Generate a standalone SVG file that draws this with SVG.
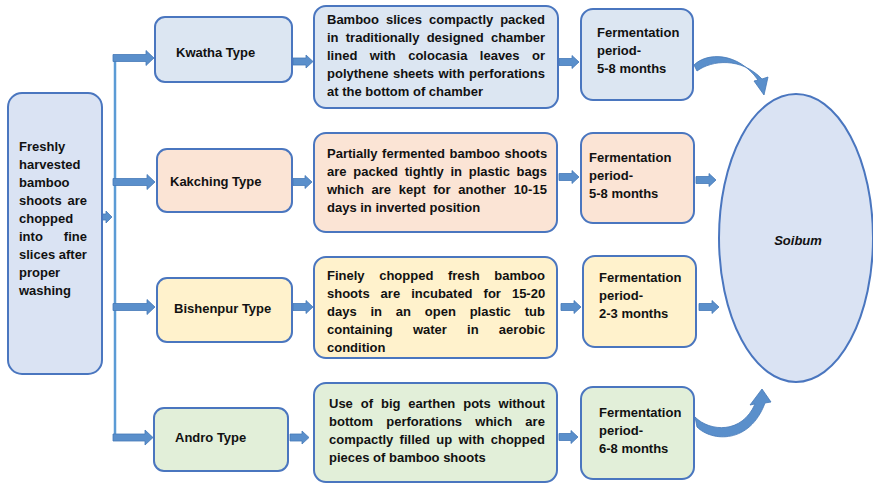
<svg xmlns="http://www.w3.org/2000/svg" width="873" height="484" viewBox="0 0 873 484">
<style>
.bx{stroke:#4a76bf;stroke-width:2}
.blue{fill:#dce6f2}.peach{fill:#fbe4d5}.yel{fill:#fff2cc}.grn{fill:#e2efd9}.lav{fill:#dae3f3}
.t{font-family:"Liberation Sans",Arial,sans-serif;font-weight:bold;font-size:13px;fill:#111}
.ar{fill:#5a8fcb;stroke:#4578b8;stroke-width:0.8}
.ln{stroke:#5b9bd5;stroke-width:2.5;fill:none}
</style>
<rect width="873" height="484" fill="#fff"/>
<g id="connectors">
<line class="ln" x1="115" y1="55" x2="115" y2="441"/>
<path class="ar" d="M102,214 H106 V211 L112,217 L106,223 V220 H102 Z"/>
<path class="ar" d="M113,54.5 H146 V50.5 L154,58 L146,65.5 V61.5 H113 Z"/>
<path class="ar" d="M113,178.5 H147 V174.5 L155,182 L147,189.5 V185.5 H113 Z"/>
<path class="ar" d="M113,303.5 H147 V299.5 L155,307 L147,314.5 V310.5 H113 Z"/>
<path class="ar" d="M113,434 H145 V430 L153,437.5 L145,445 V441 H113 Z"/>
<path class="ar" d="M293,58 H306 V55 L313,61.5 L306,68 V65 H293 Z"/>
<path class="ar" d="M293,178.5 H305 V175.5 L312,182 L305,188.5 V185.5 H293 Z"/>
<path class="ar" d="M293,303.5 H306 V300.5 L313,307 L306,313.5 V310.5 H293 Z"/>
<path class="ar" d="M290,434 H302 V431 L309,437.5 L302,444 V441 H290 Z"/>
<path class="ar" d="M559,58.5 H572 V55.5 L579,62 L572,68.5 V65.5 H559 Z"/>
<path class="ar" d="M559,173.5 H572 V170.5 L579,177 L572,183.5 V180.5 H559 Z"/>
<path class="ar" d="M561,303.5 H574 V300.5 L581,307 L574,313.5 V310.5 H561 Z"/>
<path class="ar" d="M559,433.5 H571 V430.5 L578,437 L571,443.5 V440.5 H559 Z"/>
<path class="ar" d="M696,176.5 H709 V173.5 L716,180 L709,186.5 V183.5 H696 Z"/>
<path class="ar" d="M699,303.5 H712 V300.5 L719,307 L712,313.5 V310.5 H699 Z"/>
<path class="ar" d="M694,65 C707,52 738,52 758,80 L754,81 L764,95 L768,77 L762,79 C741,57 712,60 697,71 Z"/>
<path class="ar" d="M695,417 C710,432 742,434 755,404 L750,405 L762,389 L771,402 L765,403 C750,444 712,442 697,427 Z"/>
</g>
<g id="start">
<rect class="bx lav" x="8" y="93" width="94" height="281" rx="14"/>
<text class="t" x="19" y="151">Freshly</text>
<text class="t" x="19" y="169">harvested</text>
<text class="t" x="19" y="187">bamboo</text>
<text class="t" x="19" y="205" word-spacing="2.3">shoots are</text>
<text class="t" x="19" y="223">chopped</text>
<text class="t" x="19" y="241" word-spacing="17.4">into fine</text>
<text class="t" x="19" y="259">slices after</text>
<text class="t" x="19" y="277">proper</text>
<text class="t" x="19" y="295">washing</text>
</g>
<g id="kwatha">
<rect class="bx blue" x="155" y="17" width="137" height="65" rx="10"/>
<text class="t" x="176" y="57">Kwatha Type</text>
</g>
<g id="kwatha-desc">
<rect class="bx blue" x="314" y="6" width="244" height="102" rx="12"/>
<text class="t" x="327" y="24" word-spacing="3.3">Bamboo slices compactly packed</text>
<text class="t" x="327" y="42" word-spacing="3.6">in traditionally designed chamber</text>
<text class="t" x="327" y="60" word-spacing="8.8">lined with colocasia leaves or</text>
<text class="t" x="327" y="78" word-spacing="0.9">polythene sheets with perforations</text>
<text class="t" x="327" y="96">at the bottom of chamber</text>
</g>
<g id="kwatha-period">
<rect class="bx blue" x="581" y="9" width="112" height="91" rx="12"/>
<text class="t" x="597" y="37">Fermentation</text>
<text class="t" x="597" y="55">period-</text>
<text class="t" x="597" y="73">5-8 months</text>
</g>
<g id="kakching">
<rect class="bx peach" x="157" y="149" width="135" height="63" rx="10"/>
<text class="t" x="170" y="186">Kakching Type</text>
</g>
<g id="kakching-desc">
<rect class="bx peach" x="314" y="133" width="243" height="99" rx="12"/>
<text class="t" x="327" y="158" word-spacing="0.9">Partially fermented bamboo shoots</text>
<text class="t" x="327" y="176" word-spacing="3.1">are packed tightly in plastic bags</text>
<text class="t" x="327" y="194" word-spacing="4.1">which are kept for another 10-15</text>
<text class="t" x="327" y="212">days in inverted position</text>
</g>
<g id="kakching-period">
<rect class="bx peach" x="581" y="133" width="113" height="90" rx="12"/>
<text class="t" x="589" y="162">Fermentation</text>
<text class="t" x="589" y="180">period-</text>
<text class="t" x="589" y="198">5-8 months</text>
</g>
<g id="bishenpur">
<rect class="bx yel" x="157" y="278" width="135" height="64" rx="10"/>
<text class="t" x="174" y="313">Bishenpur Type</text>
</g>
<g id="bishenpur-desc">
<rect class="bx yel" x="314" y="257" width="243" height="101" rx="12"/>
<text class="t" x="327" y="280" word-spacing="11">Finely chopped fresh bamboo</text>
<text class="t" x="327" y="298" word-spacing="7.4">shoots are incubated for 15-20</text>
<text class="t" x="327" y="316" word-spacing="10.2">days in an open plastic tub</text>
<text class="t" x="327" y="334" word-spacing="16.6">containing water in aerobic</text>
<text class="t" x="327" y="352">condition</text>
</g>
<g id="bishenpur-period">
<rect class="bx yel" x="583" y="256" width="113" height="91" rx="12"/>
<text class="t" x="599" y="282">Fermentation</text>
<text class="t" x="599" y="300">period-</text>
<text class="t" x="599" y="318">2-3 months</text>
</g>
<g id="andro">
<rect class="bx grn" x="154" y="408" width="134" height="63" rx="10"/>
<text class="t" x="175" y="442">Andro Type</text>
</g>
<g id="andro-desc">
<rect class="bx grn" x="314" y="383" width="243" height="99" rx="12"/>
<text class="t" x="329" y="408" word-spacing="4.3">Use of big earthen pots without</text>
<text class="t" x="329" y="426" word-spacing="9.6">bottom perforations which are</text>
<text class="t" x="329" y="444" word-spacing="2.7">compactly filled up with chopped</text>
<text class="t" x="329" y="462">pieces of bamboo shoots</text>
</g>
<g id="andro-period">
<rect class="bx grn" x="581" y="387" width="113" height="92" rx="12"/>
<text class="t" x="599" y="417">Fermentation</text>
<text class="t" x="599" y="435">period-</text>
<text class="t" x="599" y="453">6-8 months</text>
</g>
<g id="soibum">
<ellipse class="bx lav" cx="796" cy="238" rx="77" ry="144"/>
<text class="t" x="798" y="245" text-anchor="middle" font-size="14" font-style="italic">Soibum</text>
</g>
</svg>
